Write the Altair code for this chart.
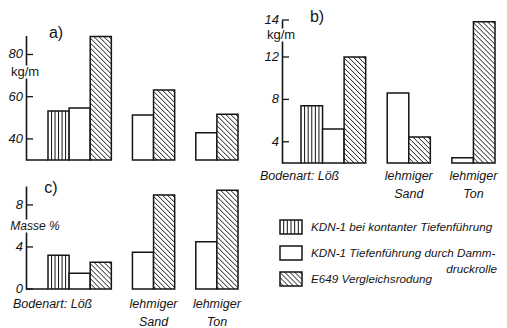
import altair as alt
import numpy as np
import pandas as pd

# ---------------- data ----------------
GROUPS = ["Bodenart: Löß", "lehmiger\nSand", "lehmiger\nTon"]
SERIES = ["KDN-1 bei kontanter Tiefenführung",
          "KDN-1 Tiefenführung durch Damm-\ndruckrolle",
          "E649 Vergleichsrodung"]

# a) kg/m
A_KONTANT = [53.2, None, None]
A_DAMM = [54.6, 51.3, 42.9]
A_E649 = [88.5, 63.2, 51.7]
A_TICKS = [40, 60, 80]

# b) kg/m
B_KONTANT = [7.4, None, None]
B_DAMM = [5.2, 8.6, 2.5]
B_E649 = [12.0, 4.45, 13.9]
B_TICKS = [4, 8, 12, 14]

# c) Masse %
C_KONTANT = [3.2, None, None]
C_DAMM = [1.5, 3.5, 4.5]
C_E649 = [2.55, 8.95, 9.4]
C_TICKS = [0, 4, 8]

# ---------------- style / layout ----------------
W, H = 491, 320
INK = "#151515"
FONT = "Liberation Sans, Arial, sans-serif"
PATTERNS = ["stripes", "plain", "hatch"]

PANELS = [
    dict(tag="a)", values=[A_KONTANT, A_DAMM, A_E649], ticks=A_TICKS, base=30,
         ydom=[30, 89], yrng=[152, 27.5], xrng=[40, 230], axis_x=18,
         unit="kg/m", unit_pos=(17, 64), unit_w=30, unit_style="normal",
         tag_pos=(48, 25), groups=False),
    dict(tag="b)", values=[B_KONTANT, B_DAMM, B_E649], ticks=B_TICKS, base=2,
         ydom=[2, 12, 14], yrng=[155, 49, 12], xrng=[293, 487], axis_x=274,
         unit="kg/m", unit_pos=(273, 27), unit_w=8, unit_style="normal",
         tag_pos=(309, 9), groups=True, label_dy=7, loess_x=252),
    dict(tag="c)", values=[C_KONTANT, C_DAMM, C_E649], ticks=C_TICKS, base=0,
         ydom=[0, 9.8], yrng=[281, 178], xrng=[40, 230], axis_x=18,
         unit="Masse %", unit_pos=(27, 218), unit_w=12, unit_style="italic",
         tag_pos=(43, 180), groups=True, label_dy=9, loess_x=5),
]

LEGEND = dict(xdom=[0, 1], xrng=[272, 294], ydom=[0, 3], yrng=[206, 284])


def lin_map(dom, rng):
    dom = np.asarray(dom, float)
    rng = np.asarray(rng, float)
    order = np.argsort(rng)
    def fwd(v):
        return float(np.interp(v, dom, rng))
    def inv(p):
        return float(np.interp(p, rng[order], dom[order]))
    return fwd, inv


def pattern_rows(kind, x0, x1, y0, y1, xmap, ymap, step=5.0, n_stripes=6):
    fx, ix = xmap
    fy, iy = ymap
    L, R = sorted((fx(x0), fx(x1)))
    T, B = sorted((fy(y0), fy(y1)))
    wpx, hpx = R - L, B - T
    segs = []
    if kind == "stripes":
        for n in range(1, n_stripes):
            xp = L + wpx * n / n_stripes
            segs.append((xp, T, xp, B))
    elif kind == "hatch":
        k = -wpx + step * 0.5
        while k < hpx:
            lo, hi = max(0.0, -k), min(wpx, hpx - k)
            if hi - lo > 0.8:
                segs.append((L + lo, T + k + lo, L + hi, T + k + hi))
            k += step
    return [dict(xa=ix(a), ya=iy(b), xb=ix(c), yb=iy(d)) for a, b, c, d in segs]


def text_at(txt, x, y, size, style="normal", align="center", baseline="middle"):
    return alt.Chart(pd.DataFrame({"t": [txt]})).mark_text(
        text=txt, font=FONT, fontSize=size, fontStyle=style, align=align,
        baseline=baseline, color=INK).encode(x=alt.value(x), y=alt.value(y))


def white_box(cx, cy, w, h):
    return alt.Chart(pd.DataFrame({"t": [0]})).mark_rect(color="white").encode(
        x=alt.value(cx - w / 2), x2=alt.value(cx + w / 2),
        y=alt.value(cy - h / 2), y2=alt.value(cy + h / 2))


def panel(cfg):
    xmap = lin_map([0, 9], cfg["xrng"])
    ymap = lin_map(cfg["ydom"], cfg["yrng"])
    xs = alt.Scale(domain=[0, 9], range=cfg["xrng"])
    ys = alt.Scale(domain=cfg["ydom"], range=cfg["yrng"], nice=False, zero=False)
    bars, segs = [], []
    for s, series_vals in enumerate(cfg["values"]):
        for g, v in enumerate(series_vals):
            if v is None:
                continue
            slot = 3 * g + s
            bars.append(dict(slot=slot, slot_end=slot + 1, value=v, base=cfg["base"]))
            segs += pattern_rows(PATTERNS[s], slot, slot + 1, cfg["base"], v, xmap, ymap)

    # axis line only; ticks point inward and labels sit left of the line
    axis = alt.Axis(orient="left", offset=-cfg["axis_x"], values=cfg["ticks"],
                    ticks=False, labels=False, domainColor=INK, domainWidth=1.6,
                    grid=False)

    bar_layer = alt.Chart(pd.DataFrame(bars)).mark_bar(
        fill="white", stroke=INK, strokeWidth=1.5).encode(
        x=alt.X("slot:Q", scale=xs, axis=None), x2=alt.X2("slot_end"),
        y=alt.Y("value:Q", scale=ys, axis=axis, title=None), y2=alt.Y2("base"))

    hatch_layer = alt.Chart(pd.DataFrame(segs)).mark_rule(
        color=INK, strokeWidth=1).encode(
        x=alt.X("xa:Q", scale=xs, axis=None), x2=alt.X2("xb"),
        y=alt.Y("ya:Q", scale=ys, axis=None), y2=alt.Y2("yb"))

    tick_df = pd.DataFrame({"tick": cfg["ticks"],
                            "label": [str(t) for t in cfg["ticks"]]})
    tick_layer = alt.Chart(tick_df).mark_rule(
        color=INK, strokeWidth=1.3).encode(
        x=alt.value(cfg["axis_x"]), x2=alt.value(cfg["axis_x"] + 7),
        y=alt.Y("tick:Q", scale=ys, axis=None))
    tick_text = alt.Chart(tick_df).mark_text(
        font=FONT, fontSize=13, fontStyle="italic", align="right",
        baseline="middle", color=INK).encode(
        x=alt.value(cfg["axis_x"] - 3),
        y=alt.Y("tick:Q", scale=ys, axis=None), text="label:N")

    base_px = ymap[0](cfg["base"])
    base_rule = alt.Chart(pd.DataFrame({"t": [0]})).mark_rule(
        color=INK, strokeWidth=1.5).encode(
        x=alt.value(cfg["axis_x"]), x2=alt.value(xmap[0](0)),
        y=alt.value(base_px))

    layers = [bar_layer, hatch_layer, tick_layer, tick_text, base_rule]

    if cfg["groups"]:
        rows = []
        for g in (1, 2):
            present = [3 * g + s + 0.5 for s in range(3) if cfg["values"][s][g] is not None]
            rows.append(dict(xs=float(np.mean(present)), text=GROUPS[g]))
        lab = alt.Chart(pd.DataFrame(rows)).mark_text(
            font=FONT, fontSize=12.5, fontStyle="italic", align="center",
            baseline="top", lineBreak="\n", lineHeight=18, color=INK).encode(
            x=alt.X("xs:Q", scale=xs, axis=None),
            y=alt.value(base_px + cfg["label_dy"]), text="text:N")
        layers.append(lab)
        layers.append(text_at(GROUPS[0], cfg["loess_x"], base_px + cfg["label_dy"], 12.5,
                              style="italic", align="left", baseline="top"))

    ux, uy = cfg["unit_pos"]
    layers.append(white_box(cfg["axis_x"], uy, cfg["unit_w"], 13))
    layers.append(text_at(cfg["unit"], ux, uy, 13 if cfg["unit"] == "kg/m" else 12,
                          style=cfg["unit_style"]))
    layers.append(text_at(cfg["tag"], cfg["tag_pos"][0], cfg["tag_pos"][1], 16))
    return layers


def legend():
    xmap = lin_map(LEGEND["xdom"], LEGEND["xrng"])
    ymap = lin_map(LEGEND["ydom"], LEGEND["yrng"])
    xs = alt.Scale(domain=LEGEND["xdom"], range=LEGEND["xrng"])
    ys = alt.Scale(domain=LEGEND["ydom"], range=LEGEND["yrng"], nice=False, zero=False)
    boxes, segs, texts = [], [], []
    for i, name in enumerate(SERIES):
        y0, y1 = i + 0.23, i + 0.77
        boxes.append(dict(x0=0, x1=1, y0=y0, y1=y1))
        segs += pattern_rows(PATTERNS[i], 0, 1, y0, y1, xmap, ymap)
        texts.append(dict(xs=1, ys=i + 0.5, text=name.split("\n")[0]))
    box_layer = alt.Chart(pd.DataFrame(boxes)).mark_rect(
        fill="white", stroke=INK, strokeWidth=1.5).encode(
        x=alt.X("x0:Q", scale=xs, axis=None), x2=alt.X2("x1"),
        y=alt.Y("y0:Q", scale=ys, axis=None), y2=alt.Y2("y1"))
    seg_layer = alt.Chart(pd.DataFrame(segs)).mark_rule(
        color=INK, strokeWidth=1).encode(
        x=alt.X("xa:Q", scale=xs, axis=None), x2=alt.X2("xb"),
        y=alt.Y("ya:Q", scale=ys, axis=None), y2=alt.Y2("yb"))
    txt_layer = alt.Chart(pd.DataFrame(texts)).mark_text(
        font=FONT, fontSize=11.7, fontStyle="italic", align="left",
        baseline="middle", dx=9, color=INK).encode(
        x=alt.X("xs:Q", scale=xs, axis=None),
        y=alt.Y("ys:Q", scale=ys, axis=None), text="text:N")
    cont = SERIES[1].split("\n")[1]
    cont_layer = text_at(cont, W - 2, ymap[0](1.5) + 16, 11.7, style="italic", align="right")
    return [box_layer, seg_layer, txt_layer, cont_layer]


all_layers = []
for p in PANELS:
    all_layers += panel(p)
all_layers += legend()

chart = alt.layer(*all_layers).resolve_scale(
    x="independent", y="independent"
).properties(
    width=W, height=H, padding=0, background="white",
    autosize=alt.AutoSizeParams(type="none"),
).configure_view(stroke=None)

chart.save("out.html", embed_options={"renderer": "svg", "actions": False})
